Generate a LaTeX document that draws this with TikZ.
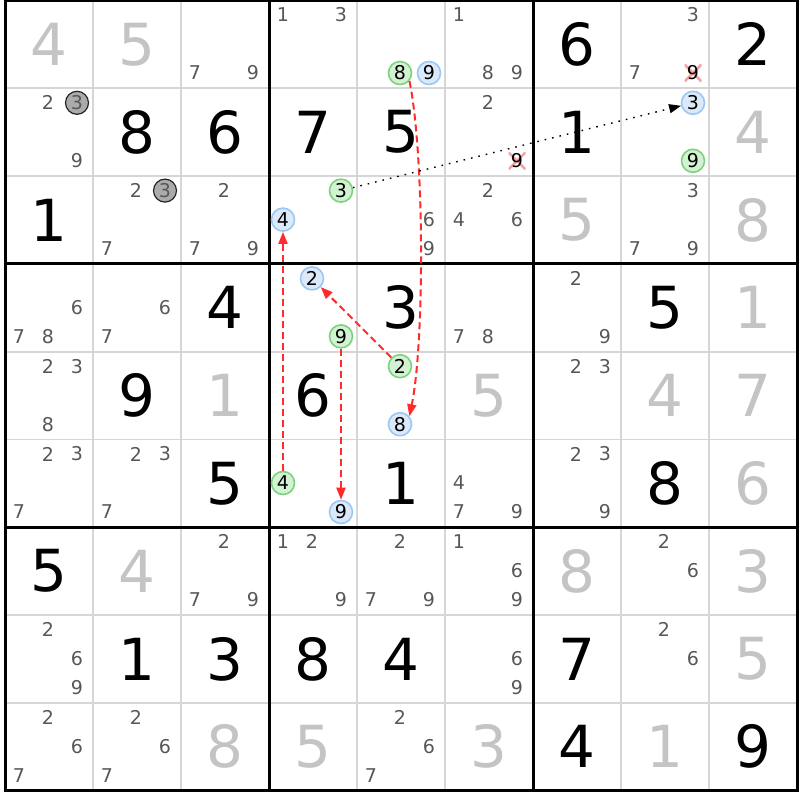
\documentclass[tikz,border=0pt]{standalone}
\usepackage{fontspec}
\setmainfont{DejaVu Sans}
\usetikzlibrary{arrows.meta}
\definecolor{solvedgray}{HTML}{C4C4C4}
\definecolor{candgray}{HTML}{585858}
\definecolor{gridgray}{HTML}{D6D6D6}
\definecolor{ongreen}{HTML}{7DD37D}
\definecolor{onfill}{HTML}{D3F1D3}
\definecolor{offblue}{HTML}{9AC8F5}
\definecolor{offfill}{HTML}{DCE9F9}
\definecolor{linkred}{HTML}{FF2B2B}
\definecolor{crossred}{HTML}{F4A3A3}
\newcommand\dig[4][given]{\node[#1] (d#2#3) at ({49+88*#3},{44.4+87.8*#2}) {#4};}
\newcommand\cand[4][cand]{\node[#1] (p#2#3#4) at ({19+88*#3+29*mod(#4-1,3)},{15+87.8*#2+29*floor((#4-1)/3)}) {#4};}

\begin{document}
\begin{tikzpicture} [x = 1pt, y = -1pt, >={Triangle[length=12pt, width=9pt]},
  given/.style = {inner sep =0pt, font =\fontsize{58}{58}\selectfont},
  solved/.style = {given, text = solvedgray},
  cand/.style = {inner sep =0pt, text = candgray, font =\fontsize{19}{19}\selectfont},
  onmark/.style = {cand, circle, draw = ongreen, fill = onfill, line width =1.6pt, minimum size =23pt, text = black},
  offmark/.style = {cand, circle, draw = offblue, fill = offfill, line width =1.6pt, minimum size =23pt, text = black},
  ghost/.style = {cand, circle, draw = black!85, fill = black!33, line width =1.2pt, minimum size =23pt},
  struck/.style = {cand, text = black, minimum size =17pt, path picture ={\draw[crossred, line width =2.5pt] (path picture bounding box.north west) -- (path picture bounding box.south east) (path picture bounding box.south west) -- (path picture bounding box.north east);}},
  minorline/.style = {gridgray, line width =1.8pt},
  boxline/.style = {black, line width =3pt, line cap =rect},
  redlink/.style = {->, draw = linkred, line width =2pt, dash pattern =on 7pt off 4pt},
  blacklink/.style = {->, draw = black, line width =1.4pt, dash pattern =on 1.6pt off 6pt}]
\useasboundingbox[fill = white] (0,0) rectangle (800,800);
\foreach \i in {1,2,4,5,7,8}
  \draw[minorline] ({5+88*\i},0.5) -- ({5+88*\i},790.7) (5,{0.5+87.8*\i}) -- (797,{0.5+87.8*\i});
\foreach \i in {0,3,6,9}
  \draw[boxline] ({5+88*\i},0.5) -- ({5+88*\i},790.7) (5,{0.5+87.8*\i}) -- (797,{0.5+87.8*\i});
\foreach \r/\c/\n in {0/6/6, 0/8/2, 1/1/8, 1/2/6, 1/3/7, 1/4/5, 1/6/1, 2/0/1, 3/2/4, 3/4/3, 3/7/5, 4/1/9, 4/3/6, 5/2/5, 5/4/1, 5/7/8, 6/0/5, 7/1/1, 7/2/3, 7/3/8, 7/4/4, 7/6/7, 8/6/4, 8/8/9}
  {\dig{\r}{\c}{\n}}
\foreach \r/\c/\n in {0/0/4, 0/1/5, 1/8/4, 2/6/5, 2/8/8, 3/8/1, 4/2/1, 4/5/5, 4/7/4, 4/8/7, 5/8/6, 6/1/4, 6/6/8, 6/8/3, 7/8/5, 8/2/8, 8/3/5, 8/5/3, 8/7/1}
  {\dig[solved]{\r}{\c}{\n}}
\foreach \r/\c/\l in {0/2/{7,9}, 0/3/{1,3}, 0/5/{1,8,9}, 0/7/{3,7}, 1/0/{2,9}, 1/5/{2}, 2/1/{2,7}, 2/2/{2,7,9}, 2/4/{6,9}, 2/5/{2,4,6}, 2/7/{3,7,9}, 3/0/{6,7,8}, 3/1/{6,7}, 3/5/{7,8}, 3/6/{2,9}, 4/0/{2,3,8}, 4/6/{2,3}, 5/0/{2,3,7}, 5/1/{2,3,7}, 5/5/{4,7,9}, 5/6/{2,3,9}, 6/2/{2,7,9}, 6/3/{1,2,9}, 6/4/{2,7,9}, 6/5/{1,6,9}, 6/7/{2,6}, 7/0/{2,6,9}, 7/5/{6,9}, 7/7/{2,6}, 8/0/{2,6,7}, 8/1/{2,6,7}, 8/4/{2,6,7}}
  {\foreach \n in \l {\cand{\r}{\c}{\n}}}
\foreach \r/\c/\n in {0/4/8, 1/7/9, 2/3/3, 3/3/9, 4/4/2, 5/3/4}
  {\cand[onmark]{\r}{\c}{\n}}
\foreach \r/\c/\n in {0/4/9, 1/7/3, 2/3/4, 3/3/2, 4/4/8, 5/3/9}
  {\cand[offmark]{\r}{\c}{\n}}
\cand[ghost]{1}{0}{3}
\cand[ghost]{2}{1}{3}
\cand[struck]{0}{7}{9}
\cand[struck]{1}{5}{9}
\draw[redlink] (p048.-40) .. controls (424,150) and (425,340) .. (p448.40);
\draw[redlink] (p442) -- (p332);
\draw[redlink] (p339) -- (p539);
\draw[redlink] (p534) -- (p234);
\draw[blacklink] (p233) -- (p173);
\end{tikzpicture}
\end{document}
